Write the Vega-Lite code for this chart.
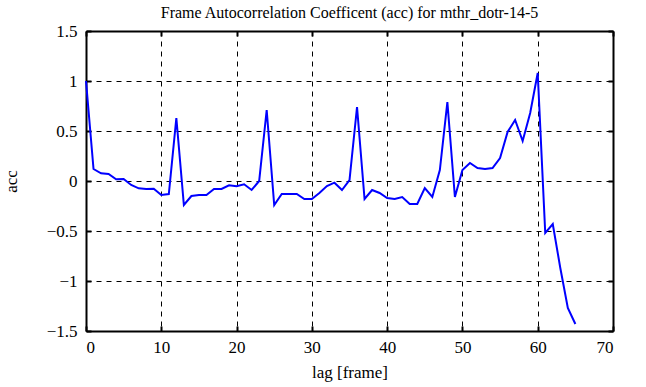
{
  "$schema": "https://vega.github.io/schema/vega-lite/v6.json",
  "width": 527,
  "height": 300,
  "autosize": {"type": "none"},
  "padding": {"left": 86, "top": 31, "right": 33, "bottom": 56},
  "background": "white",
  "title": {
    "text": "Frame Autocorrelation Coefficent (acc) for mthr_dotr-14-5",
    "font": "Liberation Serif",
    "fontSize": 16,
    "fontWeight": "normal",
    "color": "black",
    "anchor": "middle",
    "offset": 1
  },
  "data": {
    "values": [
      {"lag": 0, "acc": 1.0}, {"lag": 1, "acc": 0.12}, {"lag": 2, "acc": 0.077}, {"lag": 3, "acc": 0.07},
      {"lag": 4, "acc": 0.017}, {"lag": 5, "acc": 0.02}, {"lag": 6, "acc": -0.04}, {"lag": 7, "acc": -0.073},
      {"lag": 8, "acc": -0.08}, {"lag": 9, "acc": -0.077}, {"lag": 10, "acc": -0.14}, {"lag": 11, "acc": -0.13},
      {"lag": 12, "acc": 0.63}, {"lag": 13, "acc": -0.24}, {"lag": 14, "acc": -0.15}, {"lag": 15, "acc": -0.14},
      {"lag": 16, "acc": -0.14}, {"lag": 17, "acc": -0.08}, {"lag": 18, "acc": -0.08}, {"lag": 19, "acc": -0.043},
      {"lag": 20, "acc": -0.053}, {"lag": 21, "acc": -0.033}, {"lag": 22, "acc": -0.09}, {"lag": 23, "acc": 0.0},
      {"lag": 24, "acc": 0.71}, {"lag": 25, "acc": -0.24}, {"lag": 26, "acc": -0.13}, {"lag": 27, "acc": -0.13},
      {"lag": 28, "acc": -0.13}, {"lag": 29, "acc": -0.18}, {"lag": 30, "acc": -0.18}, {"lag": 31, "acc": -0.12},
      {"lag": 32, "acc": -0.05}, {"lag": 33, "acc": -0.017}, {"lag": 34, "acc": -0.09}, {"lag": 35, "acc": 0.01},
      {"lag": 36, "acc": 0.74}, {"lag": 37, "acc": -0.18}, {"lag": 38, "acc": -0.09}, {"lag": 39, "acc": -0.12},
      {"lag": 40, "acc": -0.17}, {"lag": 41, "acc": -0.18}, {"lag": 42, "acc": -0.16}, {"lag": 43, "acc": -0.23},
      {"lag": 44, "acc": -0.23}, {"lag": 45, "acc": -0.07}, {"lag": 46, "acc": -0.16}, {"lag": 47, "acc": 0.11},
      {"lag": 48, "acc": 0.79}, {"lag": 49, "acc": -0.16}, {"lag": 50, "acc": 0.11}, {"lag": 51, "acc": 0.18},
      {"lag": 52, "acc": 0.13}, {"lag": 53, "acc": 0.12}, {"lag": 54, "acc": 0.13}, {"lag": 55, "acc": 0.23},
      {"lag": 56, "acc": 0.49}, {"lag": 57, "acc": 0.61}, {"lag": 58, "acc": 0.4}, {"lag": 59, "acc": 0.68},
      {"lag": 60, "acc": 1.08}, {"lag": 61, "acc": -0.52}, {"lag": 62, "acc": -0.43}, {"lag": 63, "acc": -0.87},
      {"lag": 64, "acc": -1.27}, {"lag": 65, "acc": -1.43}
    ]
  },
  "layer": [
    {
      "mark": {"type": "line", "opacity": 0},
      "encoding": {
        "x": {"field": "lag", "type": "quantitative", "scale": {"domain": [0, 70], "nice": false},
          "axis": {"orient": "top", "labels": false, "title": null, "grid": false, "values": [0,10,20,30,40,50,60,70],
            "domain": true, "domainColor": "black", "domainWidth": 2, "ticks": true, "tickColor": "black", "tickWidth": 2, "tickSize": -5}},
        "y": {"field": "acc", "type": "quantitative", "scale": {"domain": [-1.5, 1.5], "nice": false},
          "axis": {"orient": "right", "labels": false, "title": null, "grid": false, "values": [-1.5,-1,-0.5,0,0.5,1,1.5],
            "domain": true, "domainColor": "black", "domainWidth": 2, "ticks": true, "tickColor": "black", "tickWidth": 2, "tickSize": -5}}
      }
    },
    {
      "mark": {"type": "line", "color": "#0000ff", "strokeWidth": 2},
      "encoding": {
        "x": {"field": "lag", "type": "quantitative", "scale": {"domain": [0, 70], "nice": false},
          "axis": {"orient": "bottom", "title": "lag [frame]", "values": [0,10,20,30,40,50,60,70], "format": "d",
            "labelFont": "Liberation Serif", "labelFontSize": 17, "labelColor": "black", "labelPadding": 13,
            "titleFont": "Liberation Serif", "titleFontSize": 17, "titleFontWeight": "normal", "titleColor": "black", "titlePadding": 9,
            "domain": true, "domainColor": "black", "domainWidth": 2, "ticks": true, "tickColor": "black", "tickWidth": 2, "tickSize": -5,
            "grid": true, "gridColor": "black", "gridDash": [5, 5], "gridWidth": 1, "gridOpacity": 1}},
        "y": {"field": "acc", "type": "quantitative", "scale": {"domain": [-1.5, 1.5], "nice": false},
          "axis": {"orient": "left", "title": "acc", "values": [-1.5,-1,-0.5,0,0.5,1,1.5], "format": "~g",
            "labelFont": "Liberation Serif", "labelFontSize": 17, "labelColor": "black", "labelPadding": 14,
            "titleFont": "Liberation Serif", "titleFontSize": 17, "titleFontWeight": "normal", "titleColor": "black", "titlePadding": 26,
            "domain": true, "domainColor": "black", "domainWidth": 2, "ticks": true, "tickColor": "black", "tickWidth": 2, "tickSize": -5,
            "grid": true, "gridColor": "black", "gridDash": [5, 5], "gridWidth": 1, "gridOpacity": 1}}
      }
    }
  ],
  "resolve": {"scale": {"x": "independent", "y": "independent"}, "axis": {"x": "independent", "y": "independent"}}
}
